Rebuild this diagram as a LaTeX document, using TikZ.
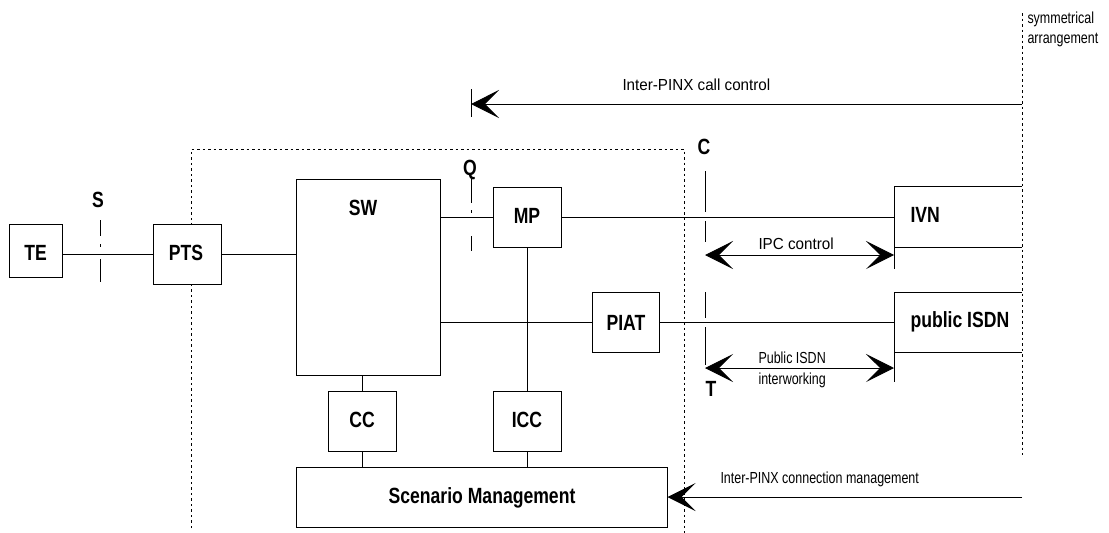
\documentclass[tikz,border=0pt]{standalone}
\usepackage{fontspec}
\setmainfont{Liberation Sans}
\newfontfamily\bnar[FakeStretch=0.8]{Liberation Sans}
\newfontfamily\snar[FakeStretch=0.78]{Liberation Sans}
\newfontfamily\swid[FakeStretch=0.95]{Liberation Sans}
\usetikzlibrary{arrows.meta}
\begin{document}
\begin{tikzpicture}[x=1pt,y=-1pt,line width=1pt,
  box/.style={draw,fill=white,inner sep=0pt},
  blbl/.style={inner sep=0pt,font=\bnar\bfseries\fontsize{22}{26}\selectfont},
  slbl/.style={inner sep=0pt,anchor=base west,font=\snar\fontsize{16}{20}\selectfont},
  wlbl/.style={inner sep=0pt,anchor=base west,font=\swid\fontsize{16}{20}\selectfont},
  dotl/.style={line width=1pt,dash pattern=on 2.5pt off 3pt},
  ifl/.style={line width=1pt},
  bigtip/.style={-{Stealth[length=28pt,width=28pt,inset=14pt]}},
  bigboth/.style={{Stealth[length=28pt,width=28pt,inset=14pt]}-{Stealth[length=28pt,width=28pt,inset=14pt]}}]
\useasboundingbox (0,0) rectangle (1109,533);

% dotted PINX boundary and symmetry line
\draw[dotl] (191,528) -- (191,149) -- (684,149) -- (684,533);
\draw[dotl] (1022,13) -- (1022,455);

% boxes
\node[box,minimum width=53pt,minimum height=53pt] (TE) at (35.5,250.5) {};
\node[box,minimum width=68pt,minimum height=60pt] (PTS) at (187,254) {};
\node[box,minimum width=144pt,minimum height=196pt] (SW) at (368,277) {};
\node[box,minimum width=68pt,minimum height=60pt] (MP) at (527,217) {};
\node[box,minimum width=67pt,minimum height=60pt] (PIAT) at (625.5,322) {};
\node[box,minimum width=68pt,minimum height=60pt] (CC) at (362,421) {};
\node[box,minimum width=68pt,minimum height=60pt] (ICC) at (527,421) {};
\node[box,minimum width=371pt,minimum height=60pt] (SM) at (481.5,497) {};

% box labels
\node[blbl,anchor=base] (lTE) at (35.5,260) {TE};
\node[blbl,anchor=base] (lPTS) at (186,260) {PTS};
\node[blbl,anchor=base] (lSW) at (363,215) {SW};
\node[blbl,anchor=base] (lMP) at (527,223) {MP};
\node[blbl,anchor=base] (lPIAT) at (626,330) {PIAT};
\node[blbl,anchor=base] (lCC) at (362,427) {CC};
\node[blbl,anchor=base] (lICC) at (527,427) {ICC};
\node[blbl,anchor=base] (lSM) at (482,503) {Scenario Management};

% open boxes IVN and public ISDN
\coordinate (ivnw) at (894,217);
\coordinate (isdnw) at (894,322);
\draw (1022,186) -- (894,186) -- (894,269);
\draw (894,247) -- (1022,247);
\draw (1022,292) -- (894,292) -- (894,382);
\draw (894,352) -- (1022,352);
\node[blbl,anchor=base west] (lIVN) at (910,222) {IVN};
\node[blbl,anchor=base west] (lISDN) at (910,327.7) {public ISDN};

% connectors
\draw (TE.east |- PTS.west) -- (PTS.west);
\draw (PTS.east) -- (PTS.east -| SW.west);
\draw (MP.west -| SW.east) -- (MP.west);
\draw (PIAT.west -| SW.east) -- (PIAT.west);
\draw (MP.south) -- (ICC.north);
\draw (CC.north |- SW.south) -- (CC.north);
\draw (CC.south) -- (CC.south |- SM.north);
\draw (ICC.south) -- (ICC.south |- SM.north);
\draw (MP.east) -- (ivnw);
\draw (PIAT.east) -- (isdnw);

% reference points S, Q, C/T
\draw[ifl] (100,220) -- (100,236);
\draw[ifl] (100,244) -- (100,247);
\draw[ifl] (100,259) -- (100,282);
\node[blbl,anchor=base] (lS) at (98,207) {S};
\draw[ifl] (471,179) -- (471,203);
\draw[ifl] (471,210) -- (471,213);
\draw[ifl] (471,236) -- (471,251);
\node[blbl,anchor=base] (lQ) at (470,175) {Q};
\draw[ifl] (705,171) -- (705,212);
\draw[ifl] (705,221) -- (705,242);
\draw[ifl] (705,292) -- (705,318);
\draw[ifl] (705,327) -- (705,365);
\node[blbl,anchor=base] (lC) at (704,154) {C};
\node[blbl,anchor=base] (lT) at (711,396) {T};

% arrows
\coordinate (callR) at (1022,104);
\coordinate (callL) at (471,104);
\draw (471,89) -- (471,117);
\draw[bigtip] (callR) -- (callL);
\node[wlbl] (tcall) at (622,90.7) {Inter-PINX call control};

\coordinate (ipcL) at (705,255);
\coordinate (ipcR) at (894,255);
\draw[bigboth] (ipcL) -- (ipcR);
\node[wlbl] (tipc) at (758,249) {IPC control};

\coordinate (pubL) at (705,368);
\coordinate (pubR) at (894,368);
\draw[bigboth] (pubL) -- (pubR);
\node[slbl] (tpub1) at (758,363.5) {Public ISDN};
\node[slbl] (tpub2) at (758,384) {interworking};

\coordinate (cmR) at (1022,497);
\draw[bigtip] (cmR) -- (cmR -| SM.east);
\node[slbl] (tcm) at (720,483) {Inter-PINX connection management};

\node[slbl] (tsym1) at (1027,23) {symmetrical};
\node[slbl] (tsym2) at (1027,43) {arrangement};
\end{tikzpicture}
\end{document}
